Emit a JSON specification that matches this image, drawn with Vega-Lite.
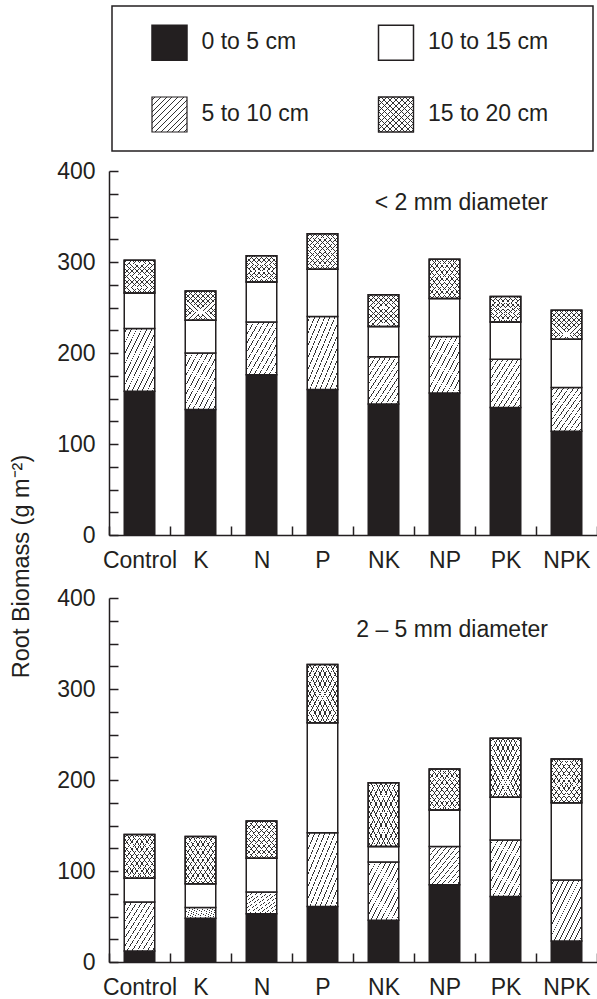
{
  "$schema": "https://vega.github.io/schema/vega-lite/v6.json",
  "padding": {"left": 9, "top": 5, "right": 0, "bottom": 0},
  "background": "white",
  "bounds": "flush",
  "spacing": 63,
  "config": {
    "font": "Liberation Sans",
    "view": {"stroke": null},
    "axis": {"labelFont": "Liberation Sans", "labelFontSize": 23, "labelColor": "#231f20", "domainColor": "#231f20", "domainWidth": 1.5, "tickColor": "#231f20", "tickWidth": 1.5, "grid": false, "titleFont": "Liberation Sans", "titleFontSize": 23.5, "titleFontWeight": "normal", "titleColor": "#231f20"},
    "text": {"font": "Liberation Sans", "fontSize": 23, "color": "#231f20"}
  },
  "datasets": {
    "legend": [
      {"depth": "0 to 5 cm", "from": 0},
      {"depth": "5 to 10 cm", "from": 5},
      {"depth": "10 to 15 cm", "from": 10},
      {"depth": "15 to 20 cm", "from": 15}
    ],
    "roots": [
      {"diameter": "< 2 mm", "treatment": "Control", "from": 0, "value": 158},
      {"diameter": "< 2 mm", "treatment": "Control", "from": 5, "value": 69},
      {"diameter": "< 2 mm", "treatment": "Control", "from": 10, "value": 39},
      {"diameter": "< 2 mm", "treatment": "Control", "from": 15, "value": 36},
      {"diameter": "< 2 mm", "treatment": "K", "from": 0, "value": 138},
      {"diameter": "< 2 mm", "treatment": "K", "from": 5, "value": 62},
      {"diameter": "< 2 mm", "treatment": "K", "from": 10, "value": 36},
      {"diameter": "< 2 mm", "treatment": "K", "from": 15, "value": 32},
      {"diameter": "< 2 mm", "treatment": "N", "from": 0, "value": 176},
      {"diameter": "< 2 mm", "treatment": "N", "from": 5, "value": 58},
      {"diameter": "< 2 mm", "treatment": "N", "from": 10, "value": 44},
      {"diameter": "< 2 mm", "treatment": "N", "from": 15, "value": 29},
      {"diameter": "< 2 mm", "treatment": "P", "from": 0, "value": 160},
      {"diameter": "< 2 mm", "treatment": "P", "from": 5, "value": 80},
      {"diameter": "< 2 mm", "treatment": "P", "from": 10, "value": 52},
      {"diameter": "< 2 mm", "treatment": "P", "from": 15, "value": 39},
      {"diameter": "< 2 mm", "treatment": "NK", "from": 0, "value": 144},
      {"diameter": "< 2 mm", "treatment": "NK", "from": 5, "value": 52},
      {"diameter": "< 2 mm", "treatment": "NK", "from": 10, "value": 33},
      {"diameter": "< 2 mm", "treatment": "NK", "from": 15, "value": 35},
      {"diameter": "< 2 mm", "treatment": "NP", "from": 0, "value": 156},
      {"diameter": "< 2 mm", "treatment": "NP", "from": 5, "value": 62},
      {"diameter": "< 2 mm", "treatment": "NP", "from": 10, "value": 42},
      {"diameter": "< 2 mm", "treatment": "NP", "from": 15, "value": 43},
      {"diameter": "< 2 mm", "treatment": "PK", "from": 0, "value": 140},
      {"diameter": "< 2 mm", "treatment": "PK", "from": 5, "value": 53},
      {"diameter": "< 2 mm", "treatment": "PK", "from": 10, "value": 41},
      {"diameter": "< 2 mm", "treatment": "PK", "from": 15, "value": 28},
      {"diameter": "< 2 mm", "treatment": "NPK", "from": 0, "value": 114},
      {"diameter": "< 2 mm", "treatment": "NPK", "from": 5, "value": 48},
      {"diameter": "< 2 mm", "treatment": "NPK", "from": 10, "value": 53},
      {"diameter": "< 2 mm", "treatment": "NPK", "from": 15, "value": 32},
      {"diameter": "2 – 5 mm", "treatment": "Control", "from": 0, "value": 12},
      {"diameter": "2 – 5 mm", "treatment": "Control", "from": 5, "value": 54},
      {"diameter": "2 – 5 mm", "treatment": "Control", "from": 10, "value": 26},
      {"diameter": "2 – 5 mm", "treatment": "Control", "from": 15, "value": 48},
      {"diameter": "2 – 5 mm", "treatment": "K", "from": 0, "value": 48},
      {"diameter": "2 – 5 mm", "treatment": "K", "from": 5, "value": 12},
      {"diameter": "2 – 5 mm", "treatment": "K", "from": 10, "value": 26},
      {"diameter": "2 – 5 mm", "treatment": "K", "from": 15, "value": 52},
      {"diameter": "2 – 5 mm", "treatment": "N", "from": 0, "value": 53},
      {"diameter": "2 – 5 mm", "treatment": "N", "from": 5, "value": 24},
      {"diameter": "2 – 5 mm", "treatment": "N", "from": 10, "value": 37},
      {"diameter": "2 – 5 mm", "treatment": "N", "from": 15, "value": 41},
      {"diameter": "2 – 5 mm", "treatment": "P", "from": 0, "value": 61},
      {"diameter": "2 – 5 mm", "treatment": "P", "from": 5, "value": 81},
      {"diameter": "2 – 5 mm", "treatment": "P", "from": 10, "value": 121},
      {"diameter": "2 – 5 mm", "treatment": "P", "from": 15, "value": 64},
      {"diameter": "2 – 5 mm", "treatment": "NK", "from": 0, "value": 46},
      {"diameter": "2 – 5 mm", "treatment": "NK", "from": 5, "value": 64},
      {"diameter": "2 – 5 mm", "treatment": "NK", "from": 10, "value": 17},
      {"diameter": "2 – 5 mm", "treatment": "NK", "from": 15, "value": 70},
      {"diameter": "2 – 5 mm", "treatment": "NP", "from": 0, "value": 85},
      {"diameter": "2 – 5 mm", "treatment": "NP", "from": 5, "value": 42},
      {"diameter": "2 – 5 mm", "treatment": "NP", "from": 10, "value": 40},
      {"diameter": "2 – 5 mm", "treatment": "NP", "from": 15, "value": 45},
      {"diameter": "2 – 5 mm", "treatment": "PK", "from": 0, "value": 72},
      {"diameter": "2 – 5 mm", "treatment": "PK", "from": 5, "value": 62},
      {"diameter": "2 – 5 mm", "treatment": "PK", "from": 10, "value": 47},
      {"diameter": "2 – 5 mm", "treatment": "PK", "from": 15, "value": 65},
      {"diameter": "2 – 5 mm", "treatment": "NPK", "from": 0, "value": 23},
      {"diameter": "2 – 5 mm", "treatment": "NPK", "from": 5, "value": 67},
      {"diameter": "2 – 5 mm", "treatment": "NPK", "from": 10, "value": 85},
      {"diameter": "2 – 5 mm", "treatment": "NPK", "from": 15, "value": 48}
    ]
  },
  "vconcat": [
    {
      "width": 488,
      "height": 102,
      "layer": [
        {
          "data": {"values": [{}]},
          "mark": {"type": "rect", "filled": false, "stroke": "#231f20", "strokeWidth": 1.5},
          "encoding": {
            "x": {"datum": 3, "type": "quantitative", "scale": {"domain": [0, 488], "nice": false, "zero": false}, "axis": null},
            "x2": {"datum": 484},
            "y": {"datum": 0, "type": "quantitative", "scale": {"domain": [0, 102], "reverse": true, "nice": false, "zero": false}, "axis": null},
            "y2": {"datum": 145}
          }
        },
        {
          "data": {"name": "legend"},
          "transform": [{"filter": "datum.from === 0"}],
          "mark": {"type": "point", "shape": "square", "size": 1225, "filled": true, "opacity": 1, "fill": "#231f20", "stroke": "#231f20", "strokeWidth": 1.5},
          "encoding": {"x": {"datum": 60.5, "type": "quantitative"}, "y": {"datum": 36.7, "type": "quantitative"}}
        },
        {
          "data": {"name": "legend"},
          "transform": [{"filter": "datum.from === 0"}],
          "mark": {"type": "text", "align": "left", "baseline": "middle", "dx": 32, "dy": -1},
          "encoding": {"x": {"datum": 60.5, "type": "quantitative"}, "y": {"datum": 36.7, "type": "quantitative"}, "text": {"field": "depth"}}
        },
        {
          "data": {"name": "legend"},
          "transform": [{"filter": "datum.from === 5"}],
          "mark": {"type": "point", "shape": "square", "size": 1225, "filled": true, "opacity": 1, "stroke": "#231f20", "strokeWidth": 1.2,
            "fill": {"gradient": "linear", "x1": 0, "y1": 0, "x2": 1, "y2": 1, "stops": [{"offset":0,"color":"#ffffff"},{"offset":0.0347,"color":"#ffffff"},{"offset":0.0347,"color":"#333333"},{"offset":0.0487,"color":"#333333"},{"offset":0.0487,"color":"#ffffff"},{"offset":0.118,"color":"#ffffff"},{"offset":0.118,"color":"#333333"},{"offset":0.132,"color":"#333333"},{"offset":0.132,"color":"#ffffff"},{"offset":0.2013,"color":"#ffffff"},{"offset":0.2013,"color":"#333333"},{"offset":0.2153,"color":"#333333"},{"offset":0.2153,"color":"#ffffff"},{"offset":0.2847,"color":"#ffffff"},{"offset":0.2847,"color":"#333333"},{"offset":0.2987,"color":"#333333"},{"offset":0.2987,"color":"#ffffff"},{"offset":0.368,"color":"#ffffff"},{"offset":0.368,"color":"#333333"},{"offset":0.382,"color":"#333333"},{"offset":0.382,"color":"#ffffff"},{"offset":0.4513,"color":"#ffffff"},{"offset":0.4513,"color":"#333333"},{"offset":0.4653,"color":"#333333"},{"offset":0.4653,"color":"#ffffff"},{"offset":0.5347,"color":"#ffffff"},{"offset":0.5347,"color":"#333333"},{"offset":0.5487,"color":"#333333"},{"offset":0.5487,"color":"#ffffff"},{"offset":0.618,"color":"#ffffff"},{"offset":0.618,"color":"#333333"},{"offset":0.632,"color":"#333333"},{"offset":0.632,"color":"#ffffff"},{"offset":0.7013,"color":"#ffffff"},{"offset":0.7013,"color":"#333333"},{"offset":0.7153,"color":"#333333"},{"offset":0.7153,"color":"#ffffff"},{"offset":0.7847,"color":"#ffffff"},{"offset":0.7847,"color":"#333333"},{"offset":0.7987,"color":"#333333"},{"offset":0.7987,"color":"#ffffff"},{"offset":0.868,"color":"#ffffff"},{"offset":0.868,"color":"#333333"},{"offset":0.882,"color":"#333333"},{"offset":0.882,"color":"#ffffff"},{"offset":0.9513,"color":"#ffffff"},{"offset":0.9513,"color":"#333333"},{"offset":0.9653,"color":"#333333"},{"offset":0.9653,"color":"#ffffff"},{"offset":1,"color":"#ffffff"}]}},
          "encoding": {"x": {"datum": 60.5, "type": "quantitative"}, "y": {"datum": 108.5, "type": "quantitative"}}
        },
        {
          "data": {"name": "legend"},
          "transform": [{"filter": "datum.from === 5"}],
          "mark": {"type": "text", "align": "left", "baseline": "middle", "dx": 32, "dy": -1},
          "encoding": {"x": {"datum": 60.5, "type": "quantitative"}, "y": {"datum": 108.5, "type": "quantitative"}, "text": {"field": "depth"}}
        },
        {
          "data": {"name": "legend"},
          "transform": [{"filter": "datum.from === 10"}],
          "mark": {"type": "point", "shape": "square", "size": 1225, "filled": true, "opacity": 1, "fill": "#ffffff", "stroke": "#231f20", "strokeWidth": 1.5},
          "encoding": {"x": {"datum": 287, "type": "quantitative"}, "y": {"datum": 36.7, "type": "quantitative"}}
        },
        {
          "data": {"name": "legend"},
          "transform": [{"filter": "datum.from === 10"}],
          "mark": {"type": "text", "align": "left", "baseline": "middle", "dx": 32, "dy": -1},
          "encoding": {"x": {"datum": 287, "type": "quantitative"}, "y": {"datum": 36.7, "type": "quantitative"}, "text": {"field": "depth"}}
        },
        {
          "data": {"name": "legend"},
          "transform": [{"filter": "datum.from === 15"}],
          "mark": {"type": "point", "shape": "square", "size": 1225, "filled": true, "opacity": 1, "stroke": "#231f20", "strokeWidth": 1.2,
            "fill": {"gradient": "linear", "x1": 0, "y1": 0, "x2": 1, "y2": 1, "stops": [{"offset":0,"color":"#ffffff"},{"offset":0.0347,"color":"#ffffff"},{"offset":0.0347,"color":"#333333"},{"offset":0.0487,"color":"#333333"},{"offset":0.0487,"color":"#ffffff"},{"offset":0.118,"color":"#ffffff"},{"offset":0.118,"color":"#333333"},{"offset":0.132,"color":"#333333"},{"offset":0.132,"color":"#ffffff"},{"offset":0.2013,"color":"#ffffff"},{"offset":0.2013,"color":"#333333"},{"offset":0.2153,"color":"#333333"},{"offset":0.2153,"color":"#ffffff"},{"offset":0.2847,"color":"#ffffff"},{"offset":0.2847,"color":"#333333"},{"offset":0.2987,"color":"#333333"},{"offset":0.2987,"color":"#ffffff"},{"offset":0.368,"color":"#ffffff"},{"offset":0.368,"color":"#333333"},{"offset":0.382,"color":"#333333"},{"offset":0.382,"color":"#ffffff"},{"offset":0.4513,"color":"#ffffff"},{"offset":0.4513,"color":"#333333"},{"offset":0.4653,"color":"#333333"},{"offset":0.4653,"color":"#ffffff"},{"offset":0.5347,"color":"#ffffff"},{"offset":0.5347,"color":"#333333"},{"offset":0.5487,"color":"#333333"},{"offset":0.5487,"color":"#ffffff"},{"offset":0.618,"color":"#ffffff"},{"offset":0.618,"color":"#333333"},{"offset":0.632,"color":"#333333"},{"offset":0.632,"color":"#ffffff"},{"offset":0.7013,"color":"#ffffff"},{"offset":0.7013,"color":"#333333"},{"offset":0.7153,"color":"#333333"},{"offset":0.7153,"color":"#ffffff"},{"offset":0.7847,"color":"#ffffff"},{"offset":0.7847,"color":"#333333"},{"offset":0.7987,"color":"#333333"},{"offset":0.7987,"color":"#ffffff"},{"offset":0.868,"color":"#ffffff"},{"offset":0.868,"color":"#333333"},{"offset":0.882,"color":"#333333"},{"offset":0.882,"color":"#ffffff"},{"offset":0.9513,"color":"#ffffff"},{"offset":0.9513,"color":"#333333"},{"offset":0.9653,"color":"#333333"},{"offset":0.9653,"color":"#ffffff"},{"offset":1,"color":"#ffffff"}]}},
          "encoding": {"x": {"datum": 287, "type": "quantitative"}, "y": {"datum": 108.5, "type": "quantitative"}}
        },
        {
          "data": {"name": "legend"},
          "transform": [{"filter": "datum.from === 15"}],
          "mark": {"type": "point", "shape": "square", "size": 1225, "filled": true, "opacity": 1, "stroke": "#231f20", "strokeWidth": 1.2,
            "fill": {"gradient": "linear", "x1": 0, "y1": 1, "x2": 1, "y2": 0, "stops": [{"offset":0,"color":"rgba(255,255,255,0)"},{"offset":0.0347,"color":"rgba(255,255,255,0)"},{"offset":0.0347,"color":"#333333"},{"offset":0.0487,"color":"#333333"},{"offset":0.0487,"color":"rgba(255,255,255,0)"},{"offset":0.118,"color":"rgba(255,255,255,0)"},{"offset":0.118,"color":"#333333"},{"offset":0.132,"color":"#333333"},{"offset":0.132,"color":"rgba(255,255,255,0)"},{"offset":0.2013,"color":"rgba(255,255,255,0)"},{"offset":0.2013,"color":"#333333"},{"offset":0.2153,"color":"#333333"},{"offset":0.2153,"color":"rgba(255,255,255,0)"},{"offset":0.2847,"color":"rgba(255,255,255,0)"},{"offset":0.2847,"color":"#333333"},{"offset":0.2987,"color":"#333333"},{"offset":0.2987,"color":"rgba(255,255,255,0)"},{"offset":0.368,"color":"rgba(255,255,255,0)"},{"offset":0.368,"color":"#333333"},{"offset":0.382,"color":"#333333"},{"offset":0.382,"color":"rgba(255,255,255,0)"},{"offset":0.4513,"color":"rgba(255,255,255,0)"},{"offset":0.4513,"color":"#333333"},{"offset":0.4653,"color":"#333333"},{"offset":0.4653,"color":"rgba(255,255,255,0)"},{"offset":0.5347,"color":"rgba(255,255,255,0)"},{"offset":0.5347,"color":"#333333"},{"offset":0.5487,"color":"#333333"},{"offset":0.5487,"color":"rgba(255,255,255,0)"},{"offset":0.618,"color":"rgba(255,255,255,0)"},{"offset":0.618,"color":"#333333"},{"offset":0.632,"color":"#333333"},{"offset":0.632,"color":"rgba(255,255,255,0)"},{"offset":0.7013,"color":"rgba(255,255,255,0)"},{"offset":0.7013,"color":"#333333"},{"offset":0.7153,"color":"#333333"},{"offset":0.7153,"color":"rgba(255,255,255,0)"},{"offset":0.7847,"color":"rgba(255,255,255,0)"},{"offset":0.7847,"color":"#333333"},{"offset":0.7987,"color":"#333333"},{"offset":0.7987,"color":"rgba(255,255,255,0)"},{"offset":0.868,"color":"rgba(255,255,255,0)"},{"offset":0.868,"color":"#333333"},{"offset":0.882,"color":"#333333"},{"offset":0.882,"color":"rgba(255,255,255,0)"},{"offset":0.9513,"color":"rgba(255,255,255,0)"},{"offset":0.9513,"color":"#333333"},{"offset":0.9653,"color":"#333333"},{"offset":0.9653,"color":"rgba(255,255,255,0)"},{"offset":1,"color":"rgba(255,255,255,0)"}]}},
          "encoding": {"x": {"datum": 287, "type": "quantitative"}, "y": {"datum": 108.5, "type": "quantitative"}}
        },
        {
          "data": {"name": "legend"},
          "transform": [{"filter": "datum.from === 15"}],
          "mark": {"type": "text", "align": "left", "baseline": "middle", "dx": 32, "dy": -1},
          "encoding": {"x": {"datum": 287, "type": "quantitative"}, "y": {"datum": 108.5, "type": "quantitative"}, "text": {"field": "depth"}}
        }
      ]
    },
    {
      "width": 488,
      "height": 364,
      "data": {"name": "roots"},
      "transform": [
        {"filter": "datum.diameter === '< 2 mm'"},
        {"stack": "value", "groupby": ["treatment"], "sort": [{"field": "from", "order": "ascending"}], "as": ["v0", "v1"]}
      ],
      "encoding": {
        "x": {"field": "treatment", "type": "nominal", "scale": {"domain": ["Control", "K", "N", "P", "NK", "NP", "PK", "NPK"], "paddingInner": 0, "paddingOuter": 0}, "axis": {"title": null, "labelAngle": 0, "tickBand": "extent", "tickSize": -9, "labelPadding": 23}},
        "y": {"field": "v0", "type": "quantitative", "scale": {"domain": [0, 400], "nice": false}, "axis": {"values": [0, 25, 50, 75, 100, 125, 150, 175, 200, 225, 250, 275, 300, 325, 350, 375, 400], "labelExpr": "datum.value % 100 === 0 ? datum.label : ''", "tickSize": -9, "labelPadding": 23, "title": "Root Biomass (g m⁻²)", "titleX": -88, "titleY": 395, "titleAngle": -90, "titleAlign": "center", "titleBaseline": "middle"}}
      },
      "layer": [
        {"transform": [{"filter": "datum.from === 0"}], "mark": {"type": "bar", "width": {"band": 0.5}, "fill": "#231f20", "stroke": "#231f20", "strokeWidth": 1.5}, "encoding": {"y2": {"field": "v1"}}},
        {"transform": [{"filter": "datum.from === 5"}], "mark": {"type": "bar", "width": {"band": 0.5}, "stroke": "#231f20", "strokeWidth": 1.5,
          "fill": {"gradient": "linear", "x1": 0, "y1": 0, "x2": 1, "y2": 1, "stops": [{"offset":0,"color":"#ffffff"},{"offset":0.0347,"color":"#ffffff"},{"offset":0.0347,"color":"#333333"},{"offset":0.0487,"color":"#333333"},{"offset":0.0487,"color":"#ffffff"},{"offset":0.118,"color":"#ffffff"},{"offset":0.118,"color":"#333333"},{"offset":0.132,"color":"#333333"},{"offset":0.132,"color":"#ffffff"},{"offset":0.2013,"color":"#ffffff"},{"offset":0.2013,"color":"#333333"},{"offset":0.2153,"color":"#333333"},{"offset":0.2153,"color":"#ffffff"},{"offset":0.2847,"color":"#ffffff"},{"offset":0.2847,"color":"#333333"},{"offset":0.2987,"color":"#333333"},{"offset":0.2987,"color":"#ffffff"},{"offset":0.368,"color":"#ffffff"},{"offset":0.368,"color":"#333333"},{"offset":0.382,"color":"#333333"},{"offset":0.382,"color":"#ffffff"},{"offset":0.4513,"color":"#ffffff"},{"offset":0.4513,"color":"#333333"},{"offset":0.4653,"color":"#333333"},{"offset":0.4653,"color":"#ffffff"},{"offset":0.5347,"color":"#ffffff"},{"offset":0.5347,"color":"#333333"},{"offset":0.5487,"color":"#333333"},{"offset":0.5487,"color":"#ffffff"},{"offset":0.618,"color":"#ffffff"},{"offset":0.618,"color":"#333333"},{"offset":0.632,"color":"#333333"},{"offset":0.632,"color":"#ffffff"},{"offset":0.7013,"color":"#ffffff"},{"offset":0.7013,"color":"#333333"},{"offset":0.7153,"color":"#333333"},{"offset":0.7153,"color":"#ffffff"},{"offset":0.7847,"color":"#ffffff"},{"offset":0.7847,"color":"#333333"},{"offset":0.7987,"color":"#333333"},{"offset":0.7987,"color":"#ffffff"},{"offset":0.868,"color":"#ffffff"},{"offset":0.868,"color":"#333333"},{"offset":0.882,"color":"#333333"},{"offset":0.882,"color":"#ffffff"},{"offset":0.9513,"color":"#ffffff"},{"offset":0.9513,"color":"#333333"},{"offset":0.9653,"color":"#333333"},{"offset":0.9653,"color":"#ffffff"},{"offset":1,"color":"#ffffff"}]}},
          "encoding": {"y2": {"field": "v1"}}},
        {"transform": [{"filter": "datum.from === 10"}], "mark": {"type": "bar", "width": {"band": 0.5}, "fill": "#ffffff", "stroke": "#231f20", "strokeWidth": 1.5}, "encoding": {"y2": {"field": "v1"}}},
        {"transform": [{"filter": "datum.from === 15"}], "mark": {"type": "bar", "width": {"band": 0.5}, "stroke": "#231f20", "strokeWidth": 1.5,
          "fill": {"gradient": "linear", "x1": 0, "y1": 0, "x2": 1, "y2": 1, "stops": [{"offset":0,"color":"#ffffff"},{"offset":0.0347,"color":"#ffffff"},{"offset":0.0347,"color":"#333333"},{"offset":0.0487,"color":"#333333"},{"offset":0.0487,"color":"#ffffff"},{"offset":0.118,"color":"#ffffff"},{"offset":0.118,"color":"#333333"},{"offset":0.132,"color":"#333333"},{"offset":0.132,"color":"#ffffff"},{"offset":0.2013,"color":"#ffffff"},{"offset":0.2013,"color":"#333333"},{"offset":0.2153,"color":"#333333"},{"offset":0.2153,"color":"#ffffff"},{"offset":0.2847,"color":"#ffffff"},{"offset":0.2847,"color":"#333333"},{"offset":0.2987,"color":"#333333"},{"offset":0.2987,"color":"#ffffff"},{"offset":0.368,"color":"#ffffff"},{"offset":0.368,"color":"#333333"},{"offset":0.382,"color":"#333333"},{"offset":0.382,"color":"#ffffff"},{"offset":0.4513,"color":"#ffffff"},{"offset":0.4513,"color":"#333333"},{"offset":0.4653,"color":"#333333"},{"offset":0.4653,"color":"#ffffff"},{"offset":0.5347,"color":"#ffffff"},{"offset":0.5347,"color":"#333333"},{"offset":0.5487,"color":"#333333"},{"offset":0.5487,"color":"#ffffff"},{"offset":0.618,"color":"#ffffff"},{"offset":0.618,"color":"#333333"},{"offset":0.632,"color":"#333333"},{"offset":0.632,"color":"#ffffff"},{"offset":0.7013,"color":"#ffffff"},{"offset":0.7013,"color":"#333333"},{"offset":0.7153,"color":"#333333"},{"offset":0.7153,"color":"#ffffff"},{"offset":0.7847,"color":"#ffffff"},{"offset":0.7847,"color":"#333333"},{"offset":0.7987,"color":"#333333"},{"offset":0.7987,"color":"#ffffff"},{"offset":0.868,"color":"#ffffff"},{"offset":0.868,"color":"#333333"},{"offset":0.882,"color":"#333333"},{"offset":0.882,"color":"#ffffff"},{"offset":0.9513,"color":"#ffffff"},{"offset":0.9513,"color":"#333333"},{"offset":0.9653,"color":"#333333"},{"offset":0.9653,"color":"#ffffff"},{"offset":1,"color":"#ffffff"}]}},
          "encoding": {"y2": {"field": "v1"}}},
        {"transform": [{"filter": "datum.from === 15"}], "mark": {"type": "bar", "width": {"band": 0.5}, "stroke": "#231f20", "strokeWidth": 1.5,
          "fill": {"gradient": "linear", "x1": 0, "y1": 1, "x2": 1, "y2": 0, "stops": [{"offset":0,"color":"rgba(255,255,255,0)"},{"offset":0.0347,"color":"rgba(255,255,255,0)"},{"offset":0.0347,"color":"#333333"},{"offset":0.0487,"color":"#333333"},{"offset":0.0487,"color":"rgba(255,255,255,0)"},{"offset":0.118,"color":"rgba(255,255,255,0)"},{"offset":0.118,"color":"#333333"},{"offset":0.132,"color":"#333333"},{"offset":0.132,"color":"rgba(255,255,255,0)"},{"offset":0.2013,"color":"rgba(255,255,255,0)"},{"offset":0.2013,"color":"#333333"},{"offset":0.2153,"color":"#333333"},{"offset":0.2153,"color":"rgba(255,255,255,0)"},{"offset":0.2847,"color":"rgba(255,255,255,0)"},{"offset":0.2847,"color":"#333333"},{"offset":0.2987,"color":"#333333"},{"offset":0.2987,"color":"rgba(255,255,255,0)"},{"offset":0.368,"color":"rgba(255,255,255,0)"},{"offset":0.368,"color":"#333333"},{"offset":0.382,"color":"#333333"},{"offset":0.382,"color":"rgba(255,255,255,0)"},{"offset":0.4513,"color":"rgba(255,255,255,0)"},{"offset":0.4513,"color":"#333333"},{"offset":0.4653,"color":"#333333"},{"offset":0.4653,"color":"rgba(255,255,255,0)"},{"offset":0.5347,"color":"rgba(255,255,255,0)"},{"offset":0.5347,"color":"#333333"},{"offset":0.5487,"color":"#333333"},{"offset":0.5487,"color":"rgba(255,255,255,0)"},{"offset":0.618,"color":"rgba(255,255,255,0)"},{"offset":0.618,"color":"#333333"},{"offset":0.632,"color":"#333333"},{"offset":0.632,"color":"rgba(255,255,255,0)"},{"offset":0.7013,"color":"rgba(255,255,255,0)"},{"offset":0.7013,"color":"#333333"},{"offset":0.7153,"color":"#333333"},{"offset":0.7153,"color":"rgba(255,255,255,0)"},{"offset":0.7847,"color":"rgba(255,255,255,0)"},{"offset":0.7847,"color":"#333333"},{"offset":0.7987,"color":"#333333"},{"offset":0.7987,"color":"rgba(255,255,255,0)"},{"offset":0.868,"color":"rgba(255,255,255,0)"},{"offset":0.868,"color":"#333333"},{"offset":0.882,"color":"#333333"},{"offset":0.882,"color":"rgba(255,255,255,0)"},{"offset":0.9513,"color":"rgba(255,255,255,0)"},{"offset":0.9513,"color":"#333333"},{"offset":0.9653,"color":"#333333"},{"offset":0.9653,"color":"rgba(255,255,255,0)"},{"offset":1,"color":"rgba(255,255,255,0)"}]}},
          "encoding": {"y2": {"field": "v1"}}},
        {"transform": [{"filter": "datum.treatment === 'PK' && datum.from === 0"}], "mark": {"type": "text", "align": "right", "baseline": "middle", "dx": 42.5, "text": "< 2 mm diameter"}, "encoding": {"y": {"datum": 365, "type": "quantitative"}}}
      ]
    },
    {
      "width": 488,
      "height": 364,
      "data": {"name": "roots"},
      "transform": [
        {"filter": "datum.diameter === '2 – 5 mm'"},
        {"stack": "value", "groupby": ["treatment"], "sort": [{"field": "from", "order": "ascending"}], "as": ["v0", "v1"]}
      ],
      "encoding": {
        "x": {"field": "treatment", "type": "nominal", "scale": {"domain": ["Control", "K", "N", "P", "NK", "NP", "PK", "NPK"], "paddingInner": 0, "paddingOuter": 0}, "axis": {"title": null, "labelAngle": 0, "tickBand": "extent", "tickSize": -9, "labelPadding": 23}},
        "y": {"field": "v0", "type": "quantitative", "scale": {"domain": [0, 400], "nice": false}, "axis": {"values": [0, 25, 50, 75, 100, 125, 150, 175, 200, 225, 250, 275, 300, 325, 350, 375, 400], "labelExpr": "datum.value % 100 === 0 ? datum.label : ''", "tickSize": -9, "labelPadding": 23, "title": null}}
      },
      "layer": [
        {"transform": [{"filter": "datum.from === 0"}], "mark": {"type": "bar", "width": {"band": 0.5}, "fill": "#231f20", "stroke": "#231f20", "strokeWidth": 1.5}, "encoding": {"y2": {"field": "v1"}}},
        {"transform": [{"filter": "datum.from === 5"}], "mark": {"type": "bar", "width": {"band": 0.5}, "stroke": "#231f20", "strokeWidth": 1.5,
          "fill": {"gradient": "linear", "x1": 0, "y1": 0, "x2": 1, "y2": 1, "stops": [{"offset":0,"color":"#ffffff"},{"offset":0.0347,"color":"#ffffff"},{"offset":0.0347,"color":"#333333"},{"offset":0.0487,"color":"#333333"},{"offset":0.0487,"color":"#ffffff"},{"offset":0.118,"color":"#ffffff"},{"offset":0.118,"color":"#333333"},{"offset":0.132,"color":"#333333"},{"offset":0.132,"color":"#ffffff"},{"offset":0.2013,"color":"#ffffff"},{"offset":0.2013,"color":"#333333"},{"offset":0.2153,"color":"#333333"},{"offset":0.2153,"color":"#ffffff"},{"offset":0.2847,"color":"#ffffff"},{"offset":0.2847,"color":"#333333"},{"offset":0.2987,"color":"#333333"},{"offset":0.2987,"color":"#ffffff"},{"offset":0.368,"color":"#ffffff"},{"offset":0.368,"color":"#333333"},{"offset":0.382,"color":"#333333"},{"offset":0.382,"color":"#ffffff"},{"offset":0.4513,"color":"#ffffff"},{"offset":0.4513,"color":"#333333"},{"offset":0.4653,"color":"#333333"},{"offset":0.4653,"color":"#ffffff"},{"offset":0.5347,"color":"#ffffff"},{"offset":0.5347,"color":"#333333"},{"offset":0.5487,"color":"#333333"},{"offset":0.5487,"color":"#ffffff"},{"offset":0.618,"color":"#ffffff"},{"offset":0.618,"color":"#333333"},{"offset":0.632,"color":"#333333"},{"offset":0.632,"color":"#ffffff"},{"offset":0.7013,"color":"#ffffff"},{"offset":0.7013,"color":"#333333"},{"offset":0.7153,"color":"#333333"},{"offset":0.7153,"color":"#ffffff"},{"offset":0.7847,"color":"#ffffff"},{"offset":0.7847,"color":"#333333"},{"offset":0.7987,"color":"#333333"},{"offset":0.7987,"color":"#ffffff"},{"offset":0.868,"color":"#ffffff"},{"offset":0.868,"color":"#333333"},{"offset":0.882,"color":"#333333"},{"offset":0.882,"color":"#ffffff"},{"offset":0.9513,"color":"#ffffff"},{"offset":0.9513,"color":"#333333"},{"offset":0.9653,"color":"#333333"},{"offset":0.9653,"color":"#ffffff"},{"offset":1,"color":"#ffffff"}]}},
          "encoding": {"y2": {"field": "v1"}}},
        {"transform": [{"filter": "datum.from === 10"}], "mark": {"type": "bar", "width": {"band": 0.5}, "fill": "#ffffff", "stroke": "#231f20", "strokeWidth": 1.5}, "encoding": {"y2": {"field": "v1"}}},
        {"transform": [{"filter": "datum.from === 15"}], "mark": {"type": "bar", "width": {"band": 0.5}, "stroke": "#231f20", "strokeWidth": 1.5,
          "fill": {"gradient": "linear", "x1": 0, "y1": 0, "x2": 1, "y2": 1, "stops": [{"offset":0,"color":"#ffffff"},{"offset":0.0347,"color":"#ffffff"},{"offset":0.0347,"color":"#333333"},{"offset":0.0487,"color":"#333333"},{"offset":0.0487,"color":"#ffffff"},{"offset":0.118,"color":"#ffffff"},{"offset":0.118,"color":"#333333"},{"offset":0.132,"color":"#333333"},{"offset":0.132,"color":"#ffffff"},{"offset":0.2013,"color":"#ffffff"},{"offset":0.2013,"color":"#333333"},{"offset":0.2153,"color":"#333333"},{"offset":0.2153,"color":"#ffffff"},{"offset":0.2847,"color":"#ffffff"},{"offset":0.2847,"color":"#333333"},{"offset":0.2987,"color":"#333333"},{"offset":0.2987,"color":"#ffffff"},{"offset":0.368,"color":"#ffffff"},{"offset":0.368,"color":"#333333"},{"offset":0.382,"color":"#333333"},{"offset":0.382,"color":"#ffffff"},{"offset":0.4513,"color":"#ffffff"},{"offset":0.4513,"color":"#333333"},{"offset":0.4653,"color":"#333333"},{"offset":0.4653,"color":"#ffffff"},{"offset":0.5347,"color":"#ffffff"},{"offset":0.5347,"color":"#333333"},{"offset":0.5487,"color":"#333333"},{"offset":0.5487,"color":"#ffffff"},{"offset":0.618,"color":"#ffffff"},{"offset":0.618,"color":"#333333"},{"offset":0.632,"color":"#333333"},{"offset":0.632,"color":"#ffffff"},{"offset":0.7013,"color":"#ffffff"},{"offset":0.7013,"color":"#333333"},{"offset":0.7153,"color":"#333333"},{"offset":0.7153,"color":"#ffffff"},{"offset":0.7847,"color":"#ffffff"},{"offset":0.7847,"color":"#333333"},{"offset":0.7987,"color":"#333333"},{"offset":0.7987,"color":"#ffffff"},{"offset":0.868,"color":"#ffffff"},{"offset":0.868,"color":"#333333"},{"offset":0.882,"color":"#333333"},{"offset":0.882,"color":"#ffffff"},{"offset":0.9513,"color":"#ffffff"},{"offset":0.9513,"color":"#333333"},{"offset":0.9653,"color":"#333333"},{"offset":0.9653,"color":"#ffffff"},{"offset":1,"color":"#ffffff"}]}},
          "encoding": {"y2": {"field": "v1"}}},
        {"transform": [{"filter": "datum.from === 15"}], "mark": {"type": "bar", "width": {"band": 0.5}, "stroke": "#231f20", "strokeWidth": 1.5,
          "fill": {"gradient": "linear", "x1": 0, "y1": 1, "x2": 1, "y2": 0, "stops": [{"offset":0,"color":"rgba(255,255,255,0)"},{"offset":0.0347,"color":"rgba(255,255,255,0)"},{"offset":0.0347,"color":"#333333"},{"offset":0.0487,"color":"#333333"},{"offset":0.0487,"color":"rgba(255,255,255,0)"},{"offset":0.118,"color":"rgba(255,255,255,0)"},{"offset":0.118,"color":"#333333"},{"offset":0.132,"color":"#333333"},{"offset":0.132,"color":"rgba(255,255,255,0)"},{"offset":0.2013,"color":"rgba(255,255,255,0)"},{"offset":0.2013,"color":"#333333"},{"offset":0.2153,"color":"#333333"},{"offset":0.2153,"color":"rgba(255,255,255,0)"},{"offset":0.2847,"color":"rgba(255,255,255,0)"},{"offset":0.2847,"color":"#333333"},{"offset":0.2987,"color":"#333333"},{"offset":0.2987,"color":"rgba(255,255,255,0)"},{"offset":0.368,"color":"rgba(255,255,255,0)"},{"offset":0.368,"color":"#333333"},{"offset":0.382,"color":"#333333"},{"offset":0.382,"color":"rgba(255,255,255,0)"},{"offset":0.4513,"color":"rgba(255,255,255,0)"},{"offset":0.4513,"color":"#333333"},{"offset":0.4653,"color":"#333333"},{"offset":0.4653,"color":"rgba(255,255,255,0)"},{"offset":0.5347,"color":"rgba(255,255,255,0)"},{"offset":0.5347,"color":"#333333"},{"offset":0.5487,"color":"#333333"},{"offset":0.5487,"color":"rgba(255,255,255,0)"},{"offset":0.618,"color":"rgba(255,255,255,0)"},{"offset":0.618,"color":"#333333"},{"offset":0.632,"color":"#333333"},{"offset":0.632,"color":"rgba(255,255,255,0)"},{"offset":0.7013,"color":"rgba(255,255,255,0)"},{"offset":0.7013,"color":"#333333"},{"offset":0.7153,"color":"#333333"},{"offset":0.7153,"color":"rgba(255,255,255,0)"},{"offset":0.7847,"color":"rgba(255,255,255,0)"},{"offset":0.7847,"color":"#333333"},{"offset":0.7987,"color":"#333333"},{"offset":0.7987,"color":"rgba(255,255,255,0)"},{"offset":0.868,"color":"rgba(255,255,255,0)"},{"offset":0.868,"color":"#333333"},{"offset":0.882,"color":"#333333"},{"offset":0.882,"color":"rgba(255,255,255,0)"},{"offset":0.9513,"color":"rgba(255,255,255,0)"},{"offset":0.9513,"color":"#333333"},{"offset":0.9653,"color":"#333333"},{"offset":0.9653,"color":"rgba(255,255,255,0)"},{"offset":1,"color":"rgba(255,255,255,0)"}]}},
          "encoding": {"y2": {"field": "v1"}}},
        {"transform": [{"filter": "datum.treatment === 'PK' && datum.from === 0"}], "mark": {"type": "text", "align": "right", "baseline": "middle", "dx": 42.5, "text": "2 – 5 mm diameter"}, "encoding": {"y": {"datum": 365, "type": "quantitative"}}}
      ]
    }
  ]
}
